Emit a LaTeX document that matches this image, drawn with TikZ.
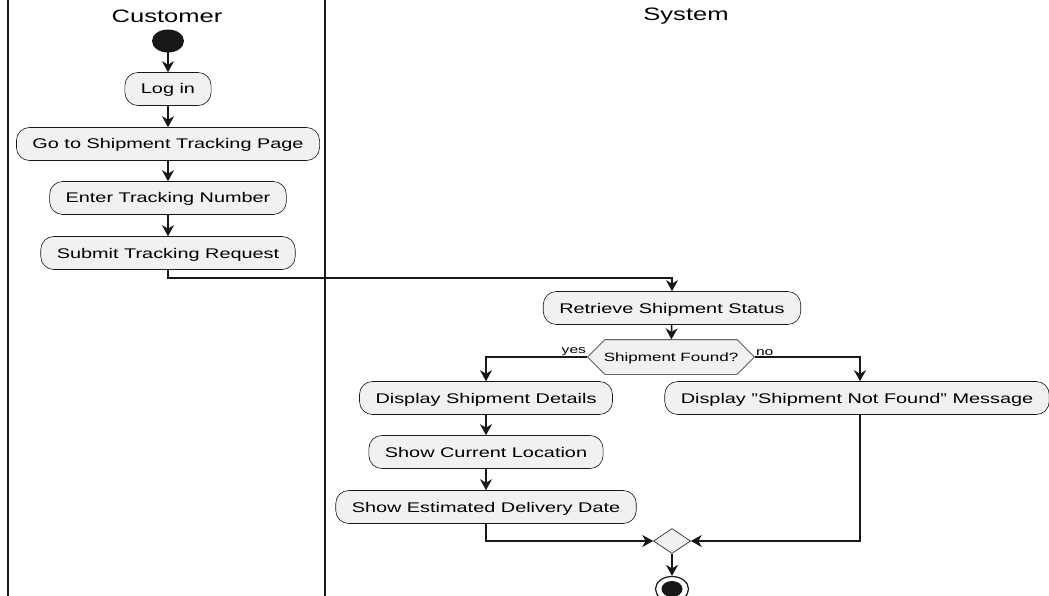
\documentclass[tikz,border=0pt]{standalone}
\usepackage{fontspec}
\setmainfont{Liberation Sans}[FakeStretch=1.42]
\usetikzlibrary{arrows.meta,shapes.misc,shapes.geometric}
\definecolor{ink}{HTML}{181818}
\definecolor{boxfill}{HTML}{F1F1F1}
\tikzset{
  lane/.style={line width=2pt, ink},
  lanetitle/.style={font=\fontsize{18}{20}\selectfont, inner sep=0pt},
  action/.style={draw=ink, line width=0.6pt, fill=boxfill, rounded corners=13pt,
    minimum height=33pt, inner xsep=16pt, inner ysep=0pt, text height=10pt, text depth=0pt,
    font=\fontsize{14}{16}\selectfont},
  decision/.style={chamfered rectangle, chamfered rectangle xsep=12pt, chamfered rectangle ysep=13pt,
    draw=ink, line width=0.6pt, fill=boxfill, minimum width=167pt, minimum height=26pt,
    inner sep=0pt, text height=8.6pt, text depth=0pt, font=\fontsize{12}{14}\selectfont},
  merge/.style={diamond, draw=ink, line width=0.6pt, fill=boxfill, inner sep=0pt,
    minimum width=37pt, minimum height=25pt},
  flow/.style={ink, line width=1.5pt, -{Stealth[length=11pt,width=12pt,inset=3.5pt]}},
  guard/.style={font=\fontsize{11}{12}\selectfont, inner sep=1pt}
}
\begin{document}
\begin{tikzpicture}[x=1pt,y=-1pt]
\useasboundingbox (0,0) rectangle (1049,596);
\fill[white] (0,0) rectangle (1049,596);

% swimlane separators
\draw[lane] (8,0) -- (8,596);
\draw[lane] (325,0) -- (325,596);

\node[lanetitle] (tcust) at (167,16) {Customer};
\node[lanetitle] (tsys) at (686,16) {System};

% customer lane
\fill[ink] (168,41) ellipse [x radius=16pt, y radius=11.5pt];
\coordinate (start) at (168,52.5);
\node[action] (login) at (168,89) {Log in};
\node[action] (gotrack) at (168,144) {Go to Shipment Tracking Page};
\node[action] (enter) at (168,198) {Enter Tracking Number};
\node[action] (submit) at (168,253) {Submit Tracking Request};

% system lane
\node[action] (retrieve) at (672,308) {Retrieve Shipment Status};
\node[decision] (found) at (671,357) {Shipment Found?};
\node[action] (details) at (486,398) {Display Shipment Details};
\node[action] (notfound) at (857,398) {Display "Shipment Not Found" Message};
\node[action] (location) at (486,452) {Show Current Location};
\node[action] (delivery) at (486,507) {Show Estimated Delivery Date};
\node[merge] (join) at (672,541) {};

% final node
\node[draw=ink, line width=1.2pt, fill=white, ellipse, minimum width=33pt, minimum height=25pt, inner sep=0pt] (stop) at (672,589) {};
\fill[ink] (stop.center) ellipse [x radius=10.5pt, y radius=8pt];

% control flow
\draw[flow] (start) -- (login);
\draw[flow] (login) -- (gotrack);
\draw[flow] (gotrack) -- (enter);
\draw[flow] (enter) -- (submit);
\draw[flow] (submit.south) -- ++(0,8) -| (retrieve.north);
\draw[flow] (retrieve) -- (found);
\draw[flow] (found.west) -| (details.north);
\draw[flow] (found.east) -| ([xshift=3pt]notfound.north);
\node[guard, anchor=south east] (yes) at (found.west) {yes};
\node[guard, anchor=south west] (no) at (found.east) {no};
\draw[flow] (details) -- (location);
\draw[flow] (location) -- (delivery);
\draw[flow] (delivery.south) |- (join.west);
\draw[flow] ([xshift=3pt]notfound.south) |- (join.east);
\draw[flow] (join) -- (stop);
\end{tikzpicture}
\end{document}
